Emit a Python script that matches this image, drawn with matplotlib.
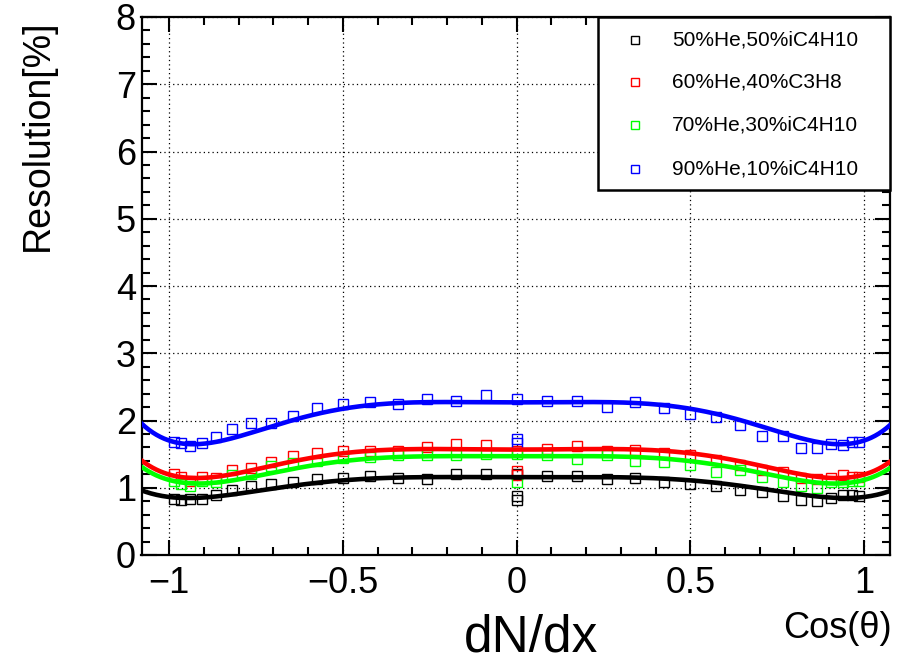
import numpy as np
import matplotlib
matplotlib.use("Agg")
import matplotlib.pyplot as plt
from matplotlib.ticker import MultipleLocator
from matplotlib.patches import Rectangle

plt.rcParams["font.family"] = ["Liberation Sans", "DejaVu Sans"]

# cos(theta) bins, 10 to 170 degrees in 5 degree steps
cos_theta = [-0.985, -0.966, -0.940, -0.906, -0.866, -0.819, -0.766, -0.707,
             -0.643, -0.574, -0.500, -0.423, -0.342, -0.259, -0.174, -0.087,
             0.000, 0.087, 0.174, 0.259, 0.342, 0.423, 0.500, 0.574,
             0.643, 0.707, 0.766, 0.819, 0.866, 0.906, 0.940, 0.966, 0.985]

res_he50 = [0.83, 0.82, 0.83, 0.83, 0.89, 0.97, 1.03, 1.06,
            1.09, 1.13, 1.15, 1.18, 1.14, 1.13, 1.20, 1.20,
            1.20, 1.18, 1.18, 1.13, 1.14, 1.08, 1.06, 1.03,
            0.97, 0.94, 0.88, 0.82, 0.80, 0.85, 0.89, 0.89, 0.88]
res_he60 = [1.20, 1.16, 1.10, 1.16, 1.15, 1.27, 1.30, 1.38,
            1.47, 1.51, 1.54, 1.55, 1.54, 1.61, 1.65, 1.63,
            1.55, 1.57, 1.62, 1.54, 1.56, 1.52, 1.48, 1.41,
            1.34, 1.26, 1.24, 1.14, 1.13, 1.14, 1.19, 1.16, 1.16]
res_he70 = [1.10, 1.06, 1.02, 1.10, 1.09, 1.19, 1.20, 1.33,
            1.37, 1.40, 1.44, 1.46, 1.49, 1.49, 1.49, 1.50,
            1.50, 1.49, 1.43, 1.48, 1.40, 1.38, 1.34, 1.24,
            1.27, 1.16, 1.08, 1.02, 0.99, 1.09, 1.09, 1.10, 1.10]
res_he90 = [1.68, 1.66, 1.62, 1.67, 1.75, 1.88, 1.96, 1.96,
            2.07, 2.19, 2.24, 2.27, 2.25, 2.32, 2.29, 2.38,
            2.32, 2.29, 2.29, 2.20, 2.28, 2.18, 2.09, 2.05,
            1.93, 1.77, 1.77, 1.59, 1.59, 1.65, 1.64, 1.68, 1.68]

# extra measurements sitting at cos(theta) = 0
extra_he50 = [0.88, 0.82]
extra_he60 = [1.25, 1.19]
extra_he70 = [1.09]
extra_he90 = [1.72, 1.66]

labels = ["50%He,50%iC4H10", "60%He,40%C3H8", "70%He,30%iC4H10", "90%He,10%iC4H10"]
colors = ["#000000", "#ff0000", "#00ff00", "#0000ff"]
series = [res_he50, res_he60, res_he70, res_he90]
extras = [extra_he50, extra_he60, extra_he70, extra_he90]


def even_poly_fit(x, y, w, npow=4):
    # weighted least squares in 1, x^2, x^4, x^6 (symmetric in cos theta)
    A = np.vstack([x ** (2 * k) for k in range(npow)]).T
    c, *_ = np.linalg.lstsq(A * w[:, None], y * w, rcond=None)
    return lambda t: sum(c[k] * t ** (2 * k) for k in range(npow))


fig = plt.figure(figsize=(9.04, 6.64), dpi=100)
ax = fig.add_axes([141.5 / 904, 1 - 555 / 664, 748.5 / 904, 538 / 664])

xlo, xhi = -1.08, 1.075
xfit = np.linspace(xlo, xhi, 400)

for vals, extra, col in zip(series, extras, colors):
    x = np.array(cos_theta + [0.0] * len(extra))
    y = np.array(vals + extra)
    w = np.array([1.0] * len(cos_theta) + [0.4] * len(extra))
    f = even_poly_fit(x, y, w)
    ax.plot(cos_theta, vals, ls="none", marker="s", ms=7, mfc="none",
            mec=col, mew=1.0, zorder=3)
    ax.plot([0.0] * len(extra), extra, ls="none", marker="s", ms=7,
            mfc="none", mec=col, mew=1.0, zorder=3)
    ax.plot(xfit, f(xfit), color=col, lw=3.3, zorder=4)

ax.set_xlim(xlo, xhi)
ax.set_ylim(0, 8)
ax.xaxis.set_minor_locator(MultipleLocator(0.1))
ax.yaxis.set_major_locator(MultipleLocator(1))
ax.yaxis.set_minor_locator(MultipleLocator(0.2))
ax.set_xticks([-1, -0.5, 0, 0.5, 1])
ax.set_xticklabels(["\u22121", "\u22120.5", "0", "0.5", "1"])

ax.tick_params(which="both", direction="in", top=True, right=True,
               width=1.5, labelsize=26)
ax.tick_params(which="major", length=11)
ax.tick_params(which="minor", length=6)
ax.tick_params(axis="y", pad=4)
ax.tick_params(axis="x", pad=8)
for sp in ax.spines.values():
    sp.set_linewidth(1.6)

ax.grid(True, which="major", color="black", lw=0.9, ls=(0, (1, 2.5)))
ax.set_axisbelow(True)

# legend box in the upper right corner
ax.add_patch(Rectangle((0.61, 0.678), 0.39, 0.322, transform=ax.transAxes,
                       facecolor="white", edgecolor="black", lw=1.8,
                       zorder=6, clip_on=False))
leg_y = [0.957, 0.879, 0.799, 0.717]
for lab, col, yy in zip(labels, colors, leg_y):
    ax.plot([0.659], [yy], transform=ax.transAxes, ls="none", marker="s",
            ms=6, mfc="none", mec=col, mew=1.0, zorder=7, clip_on=False)
    ax.text(0.709, yy, lab, transform=ax.transAxes, fontsize=15,
            va="center", ha="left", zorder=7)

fig.text(38 / 904, 1 - 135 / 664, "Resolution[%]", rotation=90,
         ha="center", va="center", fontsize=27)
fig.text(531 / 904, 1 - 651 / 664, "dN/dx", ha="center", va="baseline",
         fontsize=37)
fig.text(892 / 904, 1 - 638 / 664, "Cos(\u03b8)", ha="right", va="baseline",
         fontsize=26)

fig.savefig("out.png", dpi=100)
